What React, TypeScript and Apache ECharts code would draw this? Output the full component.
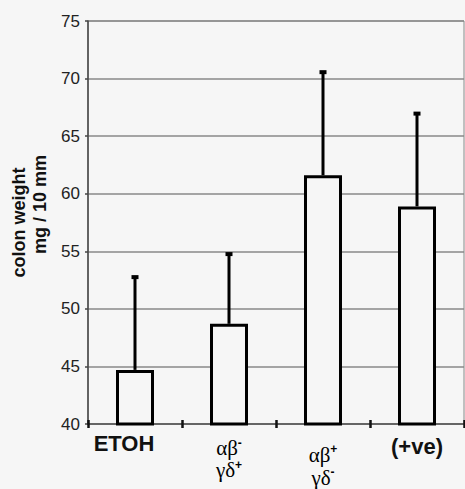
import React, { useEffect, useRef } from 'react';
import * as echarts from 'echarts';

const categories = ['ETOH', 'αβ- γδ+', 'αβ+ γδ-', '(+ve)'];
const meanWeight = [44.7, 48.7, 61.6, 58.9];
const upperError = [52.8, 54.8, 70.6, 67.0];
const yMin = 40;
const yMax = 75;
const yInterval = 5;
const yAxisNameLines = ['colon weight', 'mg / 10 mm'];

const BG = '#f6f6f6';

function isGreek(c: string) {
  return /[αβγδ]/.test(c);
}

function formatCategory(c: string) {
  if (!isGreek(c)) return `{b|${c}}`;
  const wide = c.startsWith('αβ+');
  return c
    .split(' ')
    .map((part) => {
      const base = part.slice(0, -1);
      const sign = part.slice(-1);
      return wide ? `{g2|${base}}{s2|${sign}}` : `{g|${base}}{s|${sign}}`;
    })
    .join('\n');
}

function labelPadding(i: number) {
  const c = categories[i];
  if (c === 'ETOH') return [0, 22, 0, 0];
  if (!isGreek(c)) return [3, 0, 0, 0];
  return c.startsWith('αβ+') ? [11, 0, 0, 0] : [5, 0, 0, 0];
}

const serif = "'Liberation Serif', 'DejaVu Serif', 'Times New Roman', serif";
const sans = "'Liberation Sans', Arial, sans-serif";

export default function App() {
  const ref = useRef<HTMLDivElement>(null);
  useEffect(() => {
    if (!ref.current) return;
    const chart = echarts.init(ref.current, null, { renderer: 'svg' });
    const axisData = categories.map((c, i) => ({
      value: c,
      textStyle: { padding: labelPadding(i) },
    }));
    chart.setOption({
      animation: false,
      backgroundColor: BG,
      grid: {
        left: 88,
        right: 1,
        top: 21,
        bottom: 65,
        show: true,
        borderColor: '#8a8a8a',
        borderWidth: 1,
      },
      xAxis: [
        {
          type: 'category',
          data: axisData,
          position: 'bottom',
          axisLine: { show: true, lineStyle: { color: '#555', width: 1.5 } },
          axisTick: {
            show: true,
            inside: false,
            length: 4,
            lineStyle: { color: '#111', width: 2.5 },
          },
          axisLabel: {
            margin: 8,
            interval: 0,
            formatter: (v: string) => formatCategory(v),
            rich: {
              b: { fontFamily: sans, fontWeight: 'bold', fontSize: 22, lineHeight: 22, color: '#111' },
              g: { fontFamily: serif, fontSize: 21, lineHeight: 22, color: '#000' },
              s: {
                fontFamily: sans,
                fontWeight: 'bold',
                fontSize: 12,
                lineHeight: 22,
                verticalAlign: 'top',
                color: '#000',
              },
              g2: { fontFamily: serif, fontSize: 21, lineHeight: 23, color: '#000' },
              s2: {
                fontFamily: sans,
                fontWeight: 'bold',
                fontSize: 12,
                lineHeight: 23,
                verticalAlign: 'top',
                color: '#000',
              },
            },
          },
          splitLine: { show: false },
        },
        {
          type: 'category',
          data: categories,
          position: 'bottom',
          axisLine: { show: false },
          axisTick: {
            show: true,
            inside: true,
            length: 4,
            lineStyle: { color: '#111', width: 2.5 },
          },
          axisLabel: { show: false },
          splitLine: { show: false },
        },
      ],
      yAxis: {
        type: 'value',
        min: yMin,
        max: yMax,
        interval: yInterval,
        name: `{a|${yAxisNameLines[0]}}\n{m|${yAxisNameLines[1]}}`,
        nameLocation: 'middle',
        nameRotate: 90,
        nameGap: 38,
        nameTextStyle: {
          fontFamily: sans,
          fontWeight: 'bold',
          fontSize: 18,
          lineHeight: 21,
          color: '#111',
          rich: {
            a: { fontFamily: sans, fontWeight: 'bold', fontSize: 18, lineHeight: 21, color: '#111' },
            m: {
              fontFamily: sans,
              fontWeight: 'bold',
              fontSize: 18,
              lineHeight: 21,
              color: '#111',
              padding: [0, 0, 0, 36],
            },
          },
        },
        axisLine: { show: true, lineStyle: { color: '#444', width: 1.5 } },
        axisTick: { show: true, length: 3, lineStyle: { color: '#444', width: 1.5 } },
        axisLabel: {
          margin: 8,
          fontFamily: sans,
          fontSize: 17,
          color: '#222',
        },
        splitLine: { show: true, lineStyle: { color: '#888', width: 1.5 } },
      },
      series: [
        {
          type: 'custom',
          xAxisIndex: 0,
          data: categories.map((c, i) => [i, meanWeight[i], upperError[i]]),
          renderItem: (params: any, api: any) => {
            const x = api.value(0);
            const lo = api.coord([x, api.value(1)]);
            const hi = api.coord([x, api.value(2)]);
            return {
              type: 'group',
              children: [
                {
                  type: 'line',
                  shape: { x1: lo[0], y1: lo[1], x2: hi[0], y2: hi[1] },
                  style: { stroke: '#000', lineWidth: 3 },
                },
                {
                  type: 'rect',
                  shape: { x: hi[0] - 3.5, y: hi[1] - 1.5, width: 7, height: 4 },
                  style: { fill: '#000' },
                },
              ],
            };
          },
          z: 3,
        },
        {
          type: 'bar',
          xAxisIndex: 0,
          data: meanWeight,
          barWidth: 38,
          itemStyle: { color: BG, borderColor: '#000', borderWidth: 3 },
          z: 4,
        },
      ],
    });
    return () => chart.dispose();
  }, []);
  return <div ref={ref} style={{ width: 465, height: 489, position: 'absolute', left: 0, top: 0 }} />;
}
